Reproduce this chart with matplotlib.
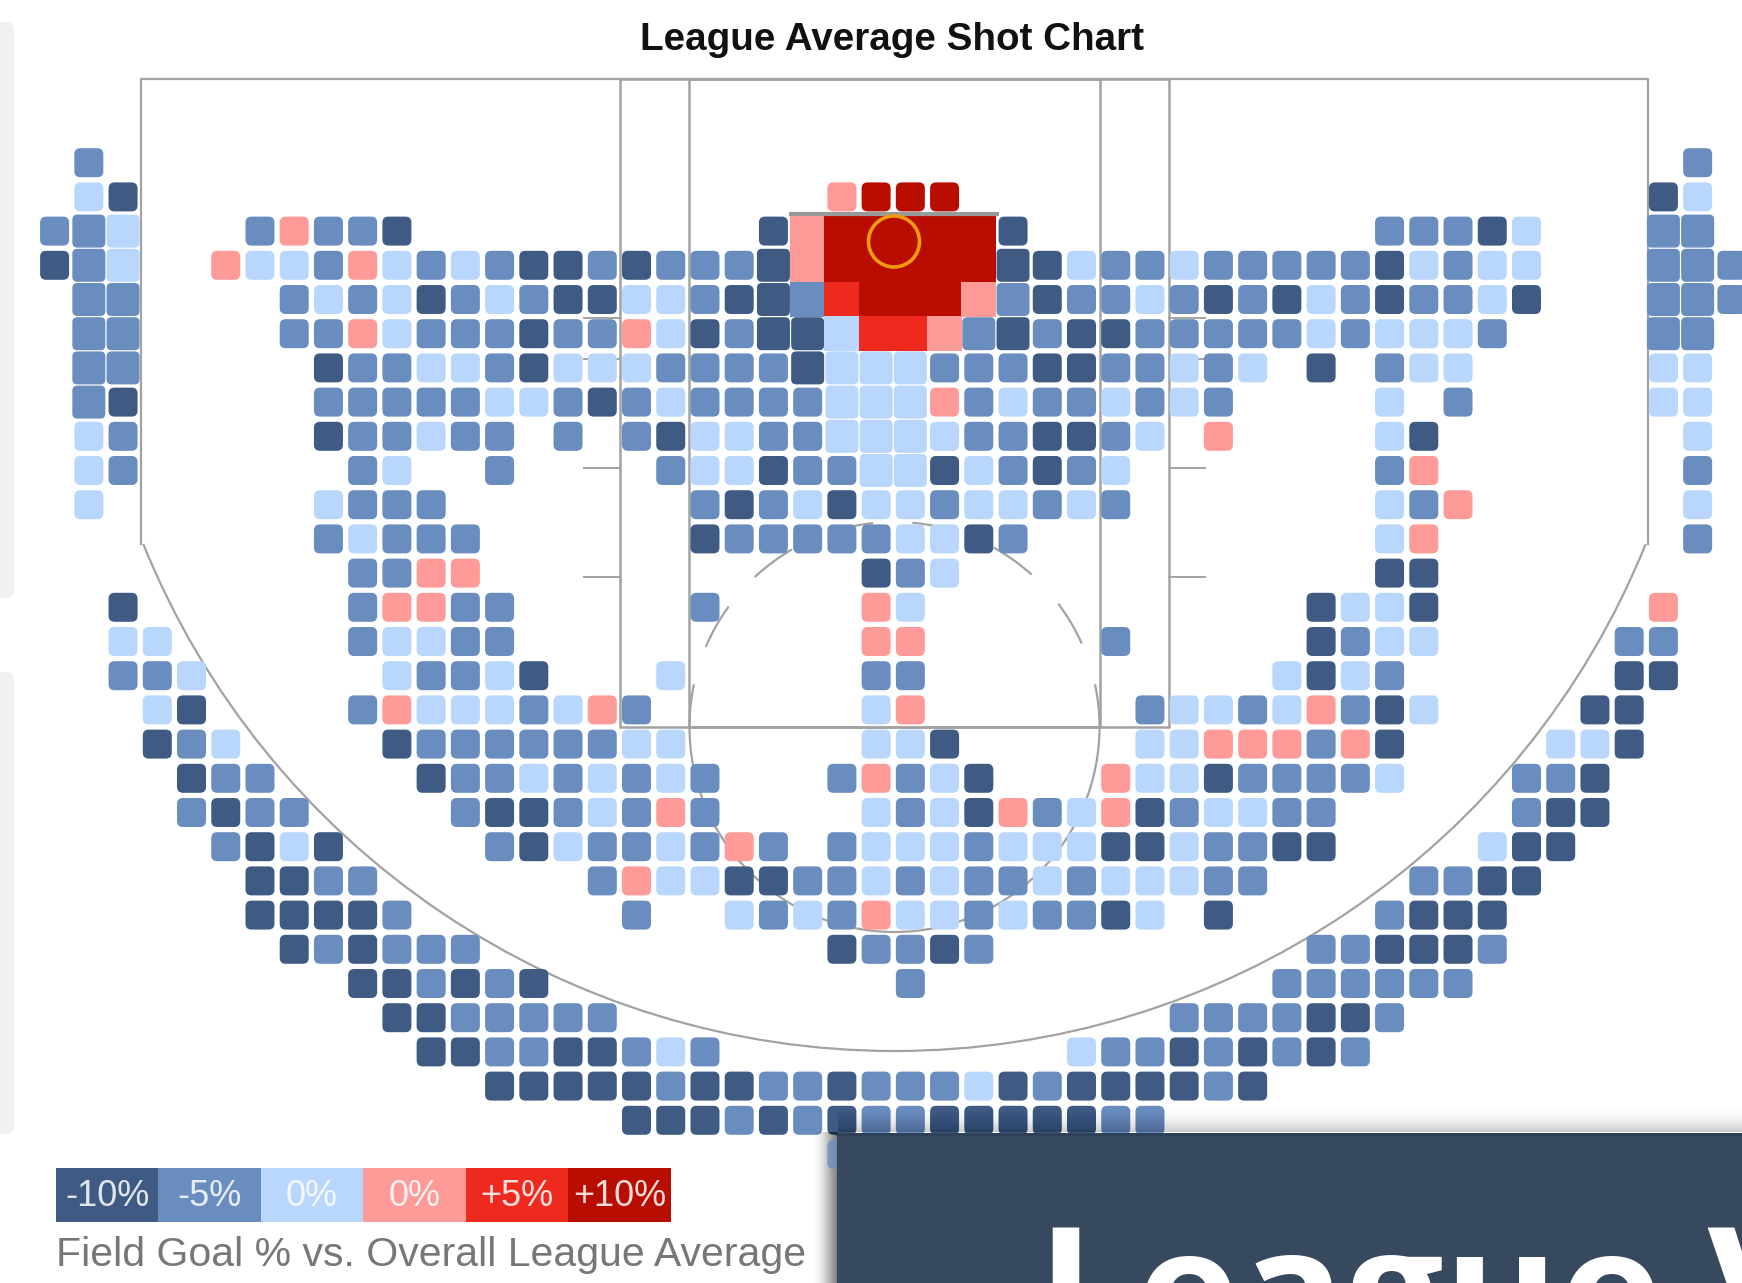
import matplotlib
matplotlib.use("Agg")
import matplotlib.pyplot as plt
import numpy as np
from matplotlib.patches import FancyBboxPatch, Rectangle, Circle, Arc

# codes in shot_rows index into these, 1 based
legend_labels = ["-10%", "-5%", "0%", "0%", "+5%", "+10%"]
legend_colors = ["#3f5b84", "#6a8dbf", "#b9d6fd", "#fe9a98", "#ee2a1e", "#b80d00"]

# one entry per court row: (first column, codes for consecutive columns)
shot_rows = [
    [(1, "2"), (48, "2")],
    [(1, "31"), (23, "4666"), (47, "13")],
    [(0, "223"), (6, "24221"), (21, "14666661"), (39, "22213"), (47, "22")],
    [(0, "123"), (5, "433243232112122214"), (23, "66666"), (28, "1132232222213233"), (47, "222")],
    [(1, "22"), (7, "2323123211"), (17, "3321125666"), (27, "4212232121"), (37, "3212231"), (47, "222")],
    [(1, "22"), (7, "2243222122"), (17, "4312113554"), (27, "2121122222"), (37, "323332"), (47, "22")],
    [(1, "22"), (8, "122332133"), (17, "3222213332"), (27, "221122323"), (37, "1"), (39, "233"), (47, "33")],
    [(1, "21"), (8, "222223321"), (17, "2322223334"), (27, "23223232"), (39, "3"), (41, "2"), (47, "33")],
    [(1, "32"), (8, "122322"), (15, "2"), (17, "2133223333"), (27, "221123"), (34, "4"), (39, "31"), (48, "3")],
    [(1, "32"), (9, "23"), (13, "2"), (18, "23312233132123"), (39, "24"), (48, "2")],
    [(1, "3"), (8, "3222"), (19, "2123133233232"), (39, "324"), (48, "3")],
    [(8, "23222"), (19, "1222223312"), (39, "34"), (48, "2")],
    [(9, "2244"), (24, "123"), (39, "11")],
    [(2, "1"), (9, "24422"), (19, "2"), (24, "43"), (37, "1331"), (47, "4")],
    [(2, "33"), (9, "23322"), (24, "44"), (31, "2"), (37, "1233"), (46, "22")],
    [(2, "223"), (10, "32231"), (18, "3"), (24, "22"), (36, "3132"), (46, "11")],
    [(3, "31"), (9, "243332342"), (24, "34"), (32, "233234213"), (45, "11")],
    [(3, "123"), (10, "122222233"), (24, "331"), (32, "33444241"), (44, "331")],
    [(4, "122"), (11, "122323232"), (23, "24231"), (31, "433122223"), (43, "221")],
    [(4, "2122"), (12, "21123242"), (24, "32314234123322"), (43, "211")],
    [(5, "2131"), (13, "213223242"), (23, "233323331132211"), (42, "311")],
    [(6, "1122"), (16, "24331122323223233322"), (40, "2211")],
    [(6, "11112"), (17, "2"), (20, "3232433232213"), (34, "1"), (39, "2111")],
    [(7, "121222"), (23, "12212"), (37, "221112")],
    [(9, "112121"), (25, "2"), (36, "222222")],
    [(10, "1122222"), (33, "2222112")],
    [(11, "112211232"), (30, "322121212")],
    [(13, "1111121122"), (23, "1222312111"), (33, "121")],
    [(17, "1112121221111122")],
    [(23, "2")],
]

# high volume cells, drawn at full size: (row, first column, last column)
full_cells = [(2, 22, 27), (3, 22, 27), (4, 22, 27), (5, 23, 26)]
big_cells = [(2, 1, 2), (3, 1, 2), (4, 1, 2), (5, 1, 2), (6, 1, 2), (7, 1, 1),
             (2, 47, 48), (3, 47, 48), (4, 47, 48), (5, 47, 48), (6, 23, 25),
             (7, 23, 25), (8, 23, 25), (9, 24, 25), (4, 21, 21), (3, 21, 21),
             (3, 28, 28), (4, 28, 28), (5, 21, 22), (5, 27, 28), (6, 22, 22)]

W, H = 1742, 1283
COL0, ROW0, PITCH_X, PITCH_Y = 54.6, 162.7, 34.23, 34.2
GREY = "#a2a2a2"

fig = plt.figure(figsize=(W / 100, H / 100), dpi=100, facecolor="white")
ax = fig.add_axes([0, 0, 1, 1])
ax.set_xlim(0, W)
ax.set_ylim(H, 0)
ax.axis("off")

plt.rcParams["font.family"] = ["Liberation Sans", "DejaVu Sans"]


def in_list(cells, row, col):
    for r, c0, c1 in cells:
        if r == row and c0 <= col <= c1:
            return True
    return False


# browser edge on the left
for y0, y1 in [(22, 598), (672, 1134)]:
    ax.add_patch(FancyBboxPatch((-12, y0), 26, y1 - y0, boxstyle="round,pad=0,rounding_size=8",
                                fc="#f0f0f0", ec="none", zorder=1))

# court
ax.plot([141, 141, 1648, 1648], [544, 79, 79, 544], color=GREY, lw=1.6, zorder=2)
ang = np.degrees(np.arcsin((544 - 241) / 810.0))
ax.add_patch(Arc((894.5, 241), 1620, 1620, theta1=ang, theta2=180 - ang, color=GREY, lw=1.6, zorder=2))
ax.add_patch(Rectangle((620, 79), 549, 648, fill=False, ec=GREY, lw=1.8, zorder=2))
ax.add_patch(Rectangle((689, 79), 411, 648, fill=False, ec=GREY, lw=1.8, zorder=2))
for y in [318, 359, 468, 577]:
    ax.plot([584, 620], [y, y], color=GREY, lw=1.4, zorder=2)
    ax.plot([1169, 1205], [y, y], color=GREY, lw=1.4, zorder=2)
# free throw circle, the ylim is inverted so angles run the other way
ax.add_patch(Arc((894.5, 727), 410, 410, theta1=0, theta2=180, color=GREY, lw=1.6, zorder=2))
for a0, a1 in [(0, 12), (24, 37), (48, 61), (72, 85), (96, 108), (120, 133), (144, 157), (168, 180)]:
    ax.add_patch(Arc((894.5, 727), 410, 410, theta1=360 - a1, theta2=360 - a0, color=GREY, lw=1.6, zorder=2))

# shot cells
for row, segments in enumerate(shot_rows):
    for start, codes in segments:
        for i, code in enumerate(codes):
            col = start + i
            x = COL0 + PITCH_X * col
            y = ROW0 + PITCH_Y * row
            if in_list(full_cells, row, col):
                ax.add_patch(Rectangle((x - 17.6, y - 17.6), 35.2, 35.2,
                                       fc=legend_colors[int(code) - 1], ec="none", zorder=3))
                continue
            if in_list(big_cells, row, col):
                size, rnd = 33, 5
            else:
                size, rnd = 29, 6
            # the last row pokes out from behind the panel, on top of its shadow
            z, al = (7.5, 0.75) if row == 29 else (3, 1)
            ax.add_patch(FancyBboxPatch((x - size / 2, y - size / 2), size, size,
                                        boxstyle="round,pad=0,rounding_size=%s" % rnd,
                                        fc=legend_colors[int(code) - 1], ec="none", zorder=z, alpha=al))

# backboard and rim
ax.plot([789, 999], [214, 214], color="#999999", lw=3, solid_capstyle="butt", zorder=4)
ax.add_patch(Circle((894, 241.5), 25.5, fill=False, ec="#f09a10", lw=2.6, zorder=4))

ax.text(892, 40, "League Average Shot Chart", ha="center", va="center", fontsize=27.8,
        fontweight="bold", color="#111111", zorder=6)

# legend
seg = (670.6 - 56) / len(legend_labels)
for i, (lab, c) in enumerate(zip(legend_labels, legend_colors)):
    ax.add_patch(Rectangle((56 + seg * i, 1168), seg, 54, fc=c, ec="none", zorder=3))
    ax.text(56 + seg * (i + 0.5), 1197, lab, ha="center", va="center", fontsize=26,
            color="white", alpha=0.85, zorder=4)
ax.text(56, 1255, "Field Goal % vs. Overall League Average", ha="left", va="center",
        fontsize=29.5, color="#777777", zorder=4)

# shadow and the slide panel covering the corner
for k in range(26):
    a = 0.05 * (k + 1) / 26
    ax.add_patch(Rectangle((812 + k, 1132), 26 - k, H - 1132, fc="black", ec="none", alpha=a, zorder=7))
    ax.add_patch(Rectangle((838, 1106 + k), W, 26 - k, fc="black", ec="none", alpha=a * 0.3, zorder=7))
ax.add_patch(Rectangle((837, 1133), W - 837, H - 1133, fc="#37495f", ec="none", zorder=8))
ax.plot([837, W], [1134, 1134], color="#2f4156", lw=2, zorder=8)
ax.text(1037, 1352, "League V", ha="left", va="baseline", fontsize=126, color="white", zorder=9,
        fontweight="bold", family=["Open Sans", "DejaVu Sans"])

fig.savefig("out.png", dpi=100)
